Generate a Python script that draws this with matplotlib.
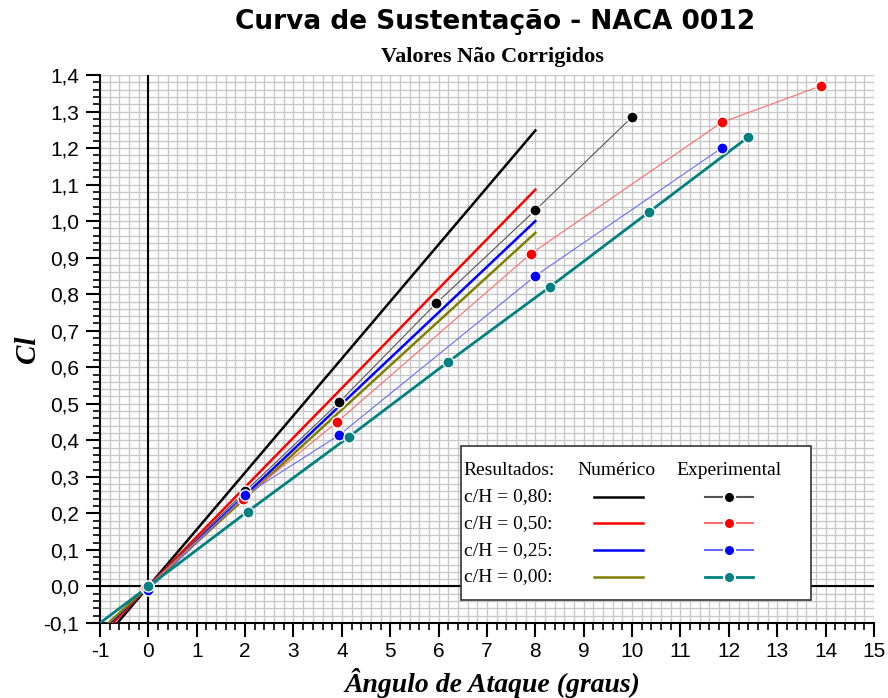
import numpy as np
import matplotlib
matplotlib.use("Agg")
import matplotlib.pyplot as plt
from matplotlib.ticker import MultipleLocator, FuncFormatter
from matplotlib.lines import Line2D
from matplotlib.patches import Rectangle

# ---- dados: resultados numéricos (retas) ----
alpha_num = [-1.0, 0.0, 2.0, 4.0, 6.0, 8.0]
cl_num_080 = [-0.156, 0.0, 0.312, 0.624, 0.936, 1.248]
cl_num_050 = [-0.136, 0.0, 0.272, 0.543, 0.815, 1.086]
cl_num_025 = [-0.125, 0.0, 0.250, 0.500, 0.750, 1.000]
cl_num_000 = [-0.121, 0.0, 0.242, 0.484, 0.726, 0.968]

# ---- dados: resultados experimentais ----
alpha_exp_080 = [0.0, 2.0, 3.95, 5.95, 8.0, 10.0]
cl_exp_080 = [0.0, 0.26, 0.505, 0.775, 1.03, 1.285]
alpha_exp_050 = [-0.05, 1.95, 3.9, 7.9, 11.85, 13.9]
cl_exp_050 = [-0.005, 0.24, 0.45, 0.91, 1.27, 1.37]
alpha_exp_025 = [0.0, 2.0, 3.95, 8.0, 11.85]
cl_exp_025 = [-0.01, 0.25, 0.415, 0.85, 1.2]
alpha_exp_000 = [-1.0, 0.0, 2.05, 4.15, 6.2, 8.3, 10.35, 12.4]
cl_exp_000 = [-0.1, 0.0, 0.205, 0.41, 0.615, 0.82, 1.025, 1.23]

labels_ch = ["c/H = 0,80:", "c/H = 0,50:", "c/H = 0,25:", "c/H = 0,00:"]
num_colors = ["#000000", "#ff0000", "#0000ff", "#808000"]
exp_line_colors = ["#555555", "#ff6a6a", "#6a6aff", "#008080"]
exp_marker_colors = ["#000000", "#ff0000", "#0000ff", "#008080"]
exp_widths = [0.8, 0.8, 0.8, 2.0]

serif = ["Liberation Serif", "DejaVu Serif"]
sans = ["Liberation Sans", "DejaVu Sans"]

fig = plt.figure(figsize=(8.88, 6.98), dpi=100)
ax = fig.add_axes([0.1126, 0.1074, 0.8716, 0.7852])

ax.set_xlim(-1, 15)
ax.set_ylim(-0.1, 1.4)

# grade fina
ax.xaxis.set_major_locator(MultipleLocator(1))
ax.xaxis.set_minor_locator(MultipleLocator(0.2))
ax.yaxis.set_major_locator(MultipleLocator(0.1))
ax.yaxis.set_minor_locator(MultipleLocator(0.02))
ax.grid(which="both", color="#c8c8c8", linewidth=1.0)
ax.set_axisbelow(True)

ax.axhline(0, color="black", linewidth=1.5, zorder=2)
ax.axvline(0, color="black", linewidth=1.5, zorder=2)

for sp in ["top", "right"]:
    ax.spines[sp].set_visible(False)
for sp in ["left", "bottom"]:
    ax.spines[sp].set_linewidth(1.5)

ax.tick_params(which="major", direction="out", length=10, width=1.5)
ax.tick_params(which="minor", direction="out", length=5, width=1.2)
ax.tick_params(axis="x", which="major", pad=4)
ax.tick_params(axis="y", which="major", pad=5)
ax.xaxis.set_major_formatter(FuncFormatter(lambda v, p: f"{v:.0f}"))
ax.yaxis.set_major_formatter(FuncFormatter(lambda v, p: f"{v:.1f}".replace(".", ",")))
for lab in ax.get_xticklabels() + ax.get_yticklabels():
    lab.set_family(sans)
    lab.set_fontsize(15)

# retas numéricas
for cl, c in zip([cl_num_080, cl_num_050, cl_num_025, cl_num_000], num_colors):
    ax.plot(alpha_num, cl, color=c, linewidth=1.8, zorder=3)

# pontos experimentais
exp_sets = [(alpha_exp_080, cl_exp_080), (alpha_exp_050, cl_exp_050),
            (alpha_exp_025, cl_exp_025), (alpha_exp_000, cl_exp_000)]
for i, (a, cl) in enumerate(exp_sets):
    ax.plot(a, cl, color=exp_line_colors[i], linewidth=exp_widths[i], zorder=4)
    mk = slice(1, None) if i == 3 else slice(None)
    ax.plot(a[mk], cl[mk], linestyle="none", marker="o", markersize=8,
            markerfacecolor=exp_marker_colors[i], markeredgecolor="white",
            markeredgewidth=1.0, zorder=5)

# títulos
fig.text(0.558, 0.968, "Curva de Sustentação - NACA 0012", ha="center", va="center",
         fontsize=19, fontweight="bold", family=["DejaVu Sans"])
fig.text(0.555, 0.919, "Valores Não Corrigidos", ha="center", va="center",
         fontsize=16, fontweight="bold", family=serif)
fig.text(0.554, 0.022, "Ângulo de Ataque (graus)", ha="center", va="center",
         fontsize=20, fontweight="bold", fontstyle="italic", family=serif)
ax.set_ylabel("Cl", fontsize=21, fontweight="bold", fontstyle="italic",
              family=serif, labelpad=2)

# legenda em forma de tabela
tr = ax.transAxes
ax.add_patch(Rectangle((0.466, 0.042), 0.453, 0.281, transform=tr,
                       facecolor="white", edgecolor="#333333", linewidth=1.2, zorder=6))
x0 = 0.470
y_rows = [0.278, 0.230, 0.182, 0.133, 0.084]
ax.text(x0, y_rows[0], "Resultados:", transform=tr, fontsize=14, family=serif,
        va="center", ha="left", zorder=7)
ax.text(0.667, y_rows[0], "Numérico", transform=tr, fontsize=14, family=serif,
        va="center", ha="center", zorder=7)
ax.text(0.813, y_rows[0], "Experimental", transform=tr, fontsize=14, family=serif,
        va="center", ha="center", zorder=7)
for i in range(4):
    y = y_rows[i + 1]
    ax.text(x0, y, labels_ch[i], transform=tr, fontsize=14, family=serif,
            va="center", ha="left", zorder=7)
    ax.add_line(Line2D([0.638, 0.702], [y, y], transform=tr, color=num_colors[i],
                       linewidth=1.8, zorder=7))
    ax.add_line(Line2D([0.782, 0.844], [y, y], transform=tr, color=exp_line_colors[i],
                       linewidth=1.5 if i < 3 else 2.0, zorder=7))
    ax.add_line(Line2D([0.813], [y], transform=tr, marker="o", markersize=8,
                       markerfacecolor=exp_marker_colors[i], markeredgecolor="white",
                       markeredgewidth=1.5, linestyle="none", zorder=8))

fig.savefig("out.png", dpi=100)
